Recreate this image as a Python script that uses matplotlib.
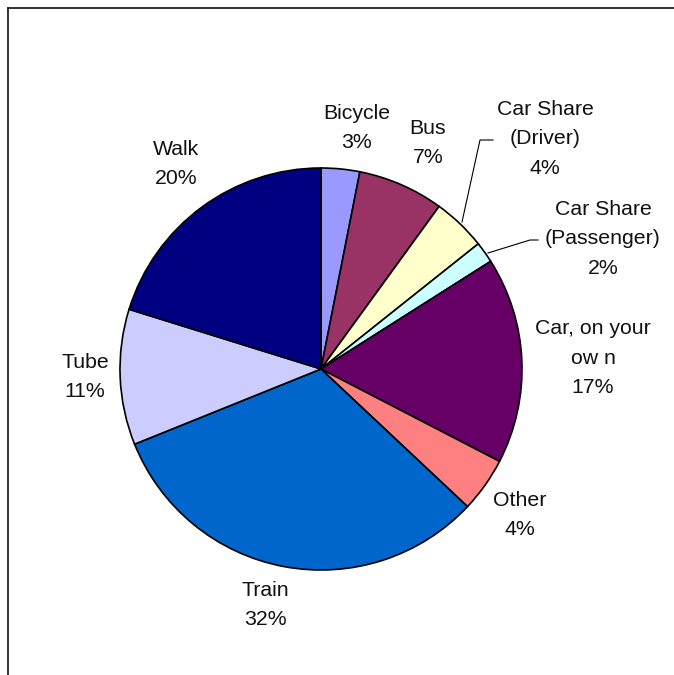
import matplotlib.pyplot as plt
from matplotlib.lines import Line2D

# travel mode shares (percent), clockwise from 12 o'clock
modes = ["Bicycle", "Bus", "Car Share\n(Driver)", "Car Share\n(Passenger)",
         "Car, on your\now n", "Other", "Train", "Tube", "Walk"]
shares = [3.1, 6.9, 4.3, 1.7, 16.6, 4.4, 31.9, 10.9, 20.2]
colours = ["#9999FF", "#993366", "#FFFFCC", "#CCFFFF", "#660066",
           "#FF8080", "#0066CC", "#CCCCFF", "#000080"]

# label centres in pixels (x from left, y from top)
label_pos = [(357, 128), (428, 143), (545, 139), (603, 239),
             (593, 358), (520, 515), (265, 605), (85, 377), (176, 164)]

W, H = 674, 675
fig = plt.figure(figsize=(W / 100, H / 100), dpi=100)
ax = fig.add_axes([0, 0, 1, 1])

cx, cy, r = 321, H - 369, 201
wedges, _ = ax.pie(shares, colors=colours, startangle=90, counterclock=False,
                   center=(cx, cy), radius=r, frame=True,
                   wedgeprops=dict(edgecolor="black", linewidth=1.2))
ax.set_xlim(0, W)
ax.set_ylim(0, H)
ax.set_aspect("equal")
ax.axis("off")

for name, val, (lx, ly) in zip(modes, shares, label_pos):
    ax.text(lx, H - ly, f"{name}\n{val:.0f}%", ha="center", va="center",
            fontsize=15.3, family="Liberation Sans", linespacing=1.72,
            color="#111111")

# leader lines for the two thin car share slices
ax.plot([462, 480, 493], [H - 222, H - 140, H - 140], color="black", lw=0.8)
ax.plot([488, 530, 538], [H - 253, H - 240, H - 240], color="black", lw=0.8)

# chart area border (top and left edges visible)
fig.add_artist(Line2D([8 / W, 1], [1 - 8 / H, 1 - 8 / H],
                      transform=fig.transFigure, color="#222222", lw=1.3))
fig.add_artist(Line2D([8 / W, 8 / W], [0, 1 - 8 / H],
                      transform=fig.transFigure, color="#222222", lw=1.3))

fig.savefig("out.png", dpi=100, facecolor="white")
